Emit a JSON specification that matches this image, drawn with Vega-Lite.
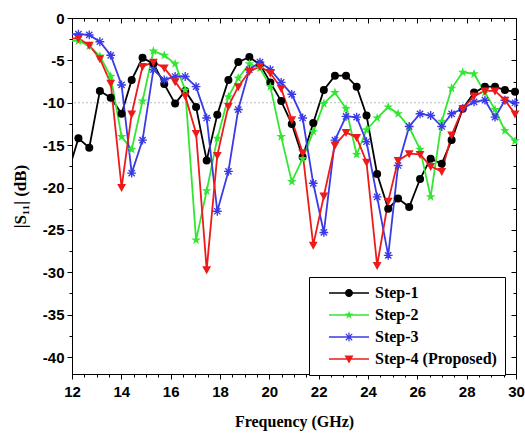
{
  "$schema": "https://vega.github.io/schema/vega-lite/v6.json",
  "width": 444,
  "height": 356,
  "autosize": {"type": "none"},
  "padding": {"left": 72, "top": 18, "right": 9, "bottom": 60},
  "background": "white",
  "config": {
    "view": {"stroke": "#000000", "strokeWidth": 1},
    "axis": {"grid": false, "tickColor": "#000000", "domainColor": "#000000", "labelColor": "#000000", "titleColor": "#000000", "tickWidth": 1, "domainWidth": 1}
  },
  "data": {
    "values": [
      {"f": 12, "Step-1": -16.7, "Step-2": -2.7, "Step-3": -1.9, "Step-4 (Proposed)": -2.4},
      {"f": 12.26, "Step-1": -14.2, "Step-2": -2.7, "Step-3": -1.9, "Step-4 (Proposed)": -2.4},
      {"f": 12.7, "Step-1": -15.3, "Step-2": -3.3, "Step-3": -2.0, "Step-4 (Proposed)": -3.2},
      {"f": 13.13, "Step-1": -8.6, "Step-2": -4.5, "Step-3": -2.8, "Step-4 (Proposed)": -4.8},
      {"f": 13.57, "Step-1": -9.4, "Step-2": -6.9, "Step-3": -4.4, "Step-4 (Proposed)": -7.7},
      {"f": 14.01, "Step-1": -11.3, "Step-2": -14.0, "Step-3": -7.9, "Step-4 (Proposed)": -20.0},
      {"f": 14.42, "Step-1": -7.3, "Step-2": -15.5, "Step-3": -18.3, "Step-4 (Proposed)": -11.3},
      {"f": 14.86, "Step-1": -4.7, "Step-2": -9.8, "Step-3": -14.4, "Step-4 (Proposed)": -5.7},
      {"f": 15.3, "Step-1": -5.4, "Step-2": -3.9, "Step-3": -6.1, "Step-4 (Proposed)": -5.2},
      {"f": 15.74, "Step-1": -7.8, "Step-2": -4.4, "Step-3": -7.3, "Step-4 (Proposed)": -5.9},
      {"f": 16.18, "Step-1": -10.1, "Step-2": -5.4, "Step-3": -6.9, "Step-4 (Proposed)": -7.5},
      {"f": 16.59, "Step-1": -8.6, "Step-2": -8.5, "Step-3": -6.9, "Step-4 (Proposed)": -9.2},
      {"f": 17.03, "Step-1": -10.5, "Step-2": -26.2, "Step-3": -8.1, "Step-4 (Proposed)": -13.6},
      {"f": 17.46, "Step-1": -16.8, "Step-2": -20.4, "Step-3": -11.8, "Step-4 (Proposed)": -29.7},
      {"f": 17.89, "Step-1": -11.4, "Step-2": -14.2, "Step-3": -22.8, "Step-4 (Proposed)": -16.2},
      {"f": 18.34, "Step-1": -7.3, "Step-2": -9.3, "Step-3": -18.1, "Step-4 (Proposed)": -10.4},
      {"f": 18.74, "Step-1": -5.2, "Step-2": -7.1, "Step-3": -10.8, "Step-4 (Proposed)": -8.1},
      {"f": 19.19, "Step-1": -4.6, "Step-2": -5.4, "Step-3": -6.1, "Step-4 (Proposed)": -6.3},
      {"f": 19.62, "Step-1": -5.5, "Step-2": -5.9, "Step-3": -5.2, "Step-4 (Proposed)": -5.7},
      {"f": 20.04, "Step-1": -7.6, "Step-2": -8.1, "Step-3": -6.1, "Step-4 (Proposed)": -6.5},
      {"f": 20.48, "Step-1": -9.8, "Step-2": -14.0, "Step-3": -7.6, "Step-4 (Proposed)": -8.3},
      {"f": 20.91, "Step-1": -12.5, "Step-2": -19.3, "Step-3": -9.0, "Step-4 (Proposed)": -12.0},
      {"f": 21.35, "Step-1": -16.4, "Step-2": -16.6, "Step-3": -11.8, "Step-4 (Proposed)": -15.9},
      {"f": 21.78, "Step-1": -12.4, "Step-2": -13.4, "Step-3": -19.5, "Step-4 (Proposed)": -26.8},
      {"f": 22.21, "Step-1": -8.5, "Step-2": -10.1, "Step-3": -25.3, "Step-4 (Proposed)": -21.0},
      {"f": 22.66, "Step-1": -6.8, "Step-2": -8.8, "Step-3": -14.4, "Step-4 (Proposed)": -15.0},
      {"f": 23.11, "Step-1": -6.8, "Step-2": -10.7, "Step-3": -11.6, "Step-4 (Proposed)": -13.5},
      {"f": 23.54, "Step-1": -8.1, "Step-2": -16.1, "Step-3": -11.7, "Step-4 (Proposed)": -14.1},
      {"f": 23.94, "Step-1": -11.5, "Step-2": -13.2, "Step-3": -14.6, "Step-4 (Proposed)": -17.0},
      {"f": 24.37, "Step-1": -18.4, "Step-2": -11.8, "Step-3": -21.1, "Step-4 (Proposed)": -29.2},
      {"f": 24.82, "Step-1": -22.5, "Step-2": -10.5, "Step-3": -28.0, "Step-4 (Proposed)": -21.6},
      {"f": 25.22, "Step-1": -21.3, "Step-2": -11.3, "Step-3": -17.4, "Step-4 (Proposed)": -16.8},
      {"f": 25.67, "Step-1": -22.3, "Step-2": -12.9, "Step-3": -12.8, "Step-4 (Proposed)": -16.0},
      {"f": 26.11, "Step-1": -19.0, "Step-2": -15.5, "Step-3": -11.3, "Step-4 (Proposed)": -16.1},
      {"f": 26.54, "Step-1": -16.6, "Step-2": -21.1, "Step-3": -11.5, "Step-4 (Proposed)": -17.5},
      {"f": 26.99, "Step-1": -17.2, "Step-2": -12.2, "Step-3": -12.8, "Step-4 (Proposed)": -18.1},
      {"f": 27.39, "Step-1": -14.4, "Step-2": -8.3, "Step-3": -11.3, "Step-4 (Proposed)": -13.8},
      {"f": 27.84, "Step-1": -10.7, "Step-2": -6.4, "Step-3": -10.7, "Step-4 (Proposed)": -10.7},
      {"f": 28.3, "Step-1": -8.8, "Step-2": -6.6, "Step-3": -9.9, "Step-4 (Proposed)": -9.2},
      {"f": 28.74, "Step-1": -8.1, "Step-2": -8.8, "Step-3": -9.7, "Step-4 (Proposed)": -8.6},
      {"f": 29.15, "Step-1": -8.1, "Step-2": -10.8, "Step-3": -11.7, "Step-4 (Proposed)": -8.6},
      {"f": 29.55, "Step-1": -8.5, "Step-2": -13.3, "Step-3": -9.7, "Step-4 (Proposed)": -9.7},
      {"f": 29.96, "Step-1": -8.7, "Step-2": -14.5, "Step-3": -10.0, "Step-4 (Proposed)": -11.3}
    ]
  },
  "layer": [
    {
      "data": {"values": [{}]},
      "mark": {"type": "rule", "color": "#bdbdbd", "strokeDash": [2, 2], "strokeWidth": 1},
      "encoding": {"y": {"datum": -10, "type": "quantitative", "axis": null}}
    },
    {
      "transform": [{"fold": ["Step-1", "Step-2", "Step-3", "Step-4 (Proposed)"], "as": ["series", "s11"]}],
      "mark": {"type": "line", "strokeWidth": 1.8, "clip": true},
      "encoding": {
        "x": {
          "field": "f", "type": "quantitative",
          "scale": {"domain": [12, 30], "nice": false, "zero": false},
          "axis": {
            "orient": "bottom",
            "values": [12, 12.5, 13, 13.5, 14, 14.5, 15, 15.5, 16, 16.5, 17, 17.5, 18, 18.5, 19, 19.5, 20, 20.5, 21, 21.5, 22, 22.5, 23, 23.5, 24, 24.5, 25, 25.5, 26, 26.5, 27, 27.5, 28, 28.5, 29, 29.5, 30],
            "labelExpr": "datum.value % 2 === 0 ? '' + datum.value : ''",
            "tickSize": {"condition": {"test": "datum.value % 2 === 0", "value": 5}, "value": 3},
            "labelFont": "Liberation Sans", "labelFontWeight": "bold", "labelFontSize": 15,
            "labelPadding": 5, "labelFlush": false, "labelOverlap": false,
            "title": "Frequency (GHz)", "titleFont": "Liberation Serif", "titleFontWeight": "bold", "titleFontSize": 16, "titlePadding": 14
          }
        },
        "y": {
          "field": "s11", "type": "quantitative",
          "scale": {"domain": [-42, 0], "nice": false, "zero": false},
          "axis": {
            "orient": "left",
            "values": [0, -2.5, -5, -7.5, -10, -12.5, -15, -17.5, -20, -22.5, -25, -27.5, -30, -32.5, -35, -37.5, -40],
            "labelExpr": "datum.value % 5 === 0 ? '' + datum.value : ''",
            "tickSize": {"condition": {"test": "datum.value % 5 === 0", "value": 5}, "value": 3},
            "labelFont": "Liberation Sans", "labelFontWeight": "bold", "labelFontSize": 15,
            "labelPadding": 3, "labelFlush": false, "labelOverlap": false,
            "title": "|S₁₁| (dB)", "titleFont": "Liberation Serif", "titleFontWeight": "bold", "titleFontSize": 17, "titlePadding": 13
          }
        },
        "color": {
          "field": "series", "type": "nominal", "legend": null,
          "scale": {"domain": ["Step-1", "Step-2", "Step-3", "Step-4 (Proposed)"], "range": ["#000000", "#33e633", "#3a3ae6", "#ee1a1a"]}
        },
        "detail": {"field": "series"}
      }
    },
    {
      "transform": [
        {"fold": ["Step-1", "Step-2", "Step-3", "Step-4 (Proposed)"], "as": ["series", "s11"]},
        {"filter": "datum.f > 12.1"}
      ],
      "mark": {"type": "point", "filled": true, "size": 64, "opacity": 1},
      "encoding": {
        "x": {"field": "f", "type": "quantitative", "axis": null},
        "y": {"field": "s11", "type": "quantitative", "axis": null},
        "color": {
          "field": "series", "type": "nominal", "legend": null,
          "scale": {"domain": ["Step-1", "Step-2", "Step-3", "Step-4 (Proposed)"], "range": ["#000000", "#33e633", "#3a3ae6", "#ee1a1a"]}
        },
        "shape": {
          "field": "series", "type": "nominal", "legend": null,
          "scale": {
            "domain": ["Step-1", "Step-2", "Step-3", "Step-4 (Proposed)"],
            "range": [
              "circle",
              "M0,-1.25L0.294,-0.405L1.189,-0.386L0.475,0.155L0.735,1.011L0,0.5L-0.735,1.011L-0.475,0.155L-1.189,-0.386L-0.294,-0.405Z",
              "M-1.1,-0.17H1.1V0.17H-1.1Z M-0.17,-1.1H0.17V1.1H-0.17Z M-0.66,-0.9L0.9,0.66L0.66,0.9L-0.9,-0.66Z M-0.9,0.66L0.66,-0.9L0.9,-0.66L-0.66,0.9Z",
              "M-1.1,-0.85L1.1,-0.85L0,1.15Z"
            ]
          }
        }
      }
    },
    {
      "transform": [{"fold": ["Step-1", "Step-2", "Step-3", "Step-4 (Proposed)"], "as": ["series", "s11"]}],
      "mark": {"type": "point", "filled": true, "size": 100, "opacity": 0},
      "encoding": {
        "x": {
          "field": "f", "type": "quantitative",
          "axis": {
            "orient": "top", "labels": false, "title": null, "domain": false,
            "values": [12, 12.5, 13, 13.5, 14, 14.5, 15, 15.5, 16, 16.5, 17, 17.5, 18, 18.5, 19, 19.5, 20, 20.5, 21, 21.5, 22, 22.5, 23, 23.5, 24, 24.5, 25, 25.5, 26, 26.5, 27, 27.5, 28, 28.5, 29, 29.5, 30],
            "tickSize": {"condition": {"test": "datum.value % 2 === 0", "value": -5}, "value": -3}
          }
        },
        "y": {
          "field": "s11", "type": "quantitative",
          "axis": {
            "orient": "right", "labels": false, "title": null, "domain": false,
            "values": [0, -2.5, -5, -7.5, -10, -12.5, -15, -17.5, -20, -22.5, -25, -27.5, -30, -32.5, -35, -37.5, -40],
            "tickSize": {"condition": {"test": "datum.value % 5 === 0", "value": -5}, "value": -3}
          }
        },
        "color": {
          "field": "series", "type": "nominal",
          "scale": {"domain": ["Step-1", "Step-2", "Step-3", "Step-4 (Proposed)"], "range": ["#000000", "#33e633", "#3a3ae6", "#ee1a1a"]},
          "legend": {
            "title": null, "orient": "none", "legendX": 237, "legendY": 259, "direction": "vertical",
            "strokeColor": "#000000", "fillColor": "#ffffff", "padding": 8, "cornerRadius": 0,
            "labelFont": "Liberation Serif", "labelFontWeight": "bold", "labelFontSize": 16, "labelColor": "#000000",
            "symbolSize": 100, "symbolOpacity": 1, "symbolStrokeWidth": 0, "labelOffset": 42, "rowPadding": 6
          }
        },
        "shape": {
          "field": "series", "type": "nominal",
          "scale": {
            "domain": ["Step-1", "Step-2", "Step-3", "Step-4 (Proposed)"],
            "range": [
              "M0.8,-0.15H8.8V0.15H0.8Z M4.0,0A0.8,0.8 0 1,1 5.6,0A0.8,0.8 0 1,1 4.0,0Z",
              "M0.8,-0.15H8.8V0.15H0.8Z M4.8,-0.9L5.012,-0.292L5.656,-0.278L5.142,0.112L5.329,0.728L4.8,0.36L4.271,0.728L4.458,0.112L3.944,-0.278L4.588,-0.292Z",
              "M0.8,-0.15H8.8V0.15H0.8Z M3.9,-0.12H5.7V0.12H3.9Z M4.68,-0.9H4.92V0.9H4.68Z M4.245,-0.725L5.525,0.555L5.355,0.725L4.075,-0.555Z M4.075,0.555L5.355,-0.725L5.525,-0.555L4.245,0.725Z",
              "M0.8,-0.15H8.8V0.15H0.8Z M3.9,-0.7L5.7,-0.7L4.8,0.9Z"
            ]
          },
          "legend": {
            "title": null, "orient": "none", "legendX": 237, "legendY": 259, "direction": "vertical",
            "strokeColor": "#000000", "fillColor": "#ffffff", "padding": 8, "cornerRadius": 0,
            "labelFont": "Liberation Serif", "labelFontWeight": "bold", "labelFontSize": 16, "labelColor": "#000000",
            "symbolSize": 100, "symbolOpacity": 1, "symbolStrokeWidth": 0, "labelOffset": 42, "rowPadding": 6
          }
        }
      }
    }
  ],
  "resolve": {
    "scale": {"shape": "independent", "color": "independent"},
    "axis": {"x": "independent", "y": "independent"}
  }
}
